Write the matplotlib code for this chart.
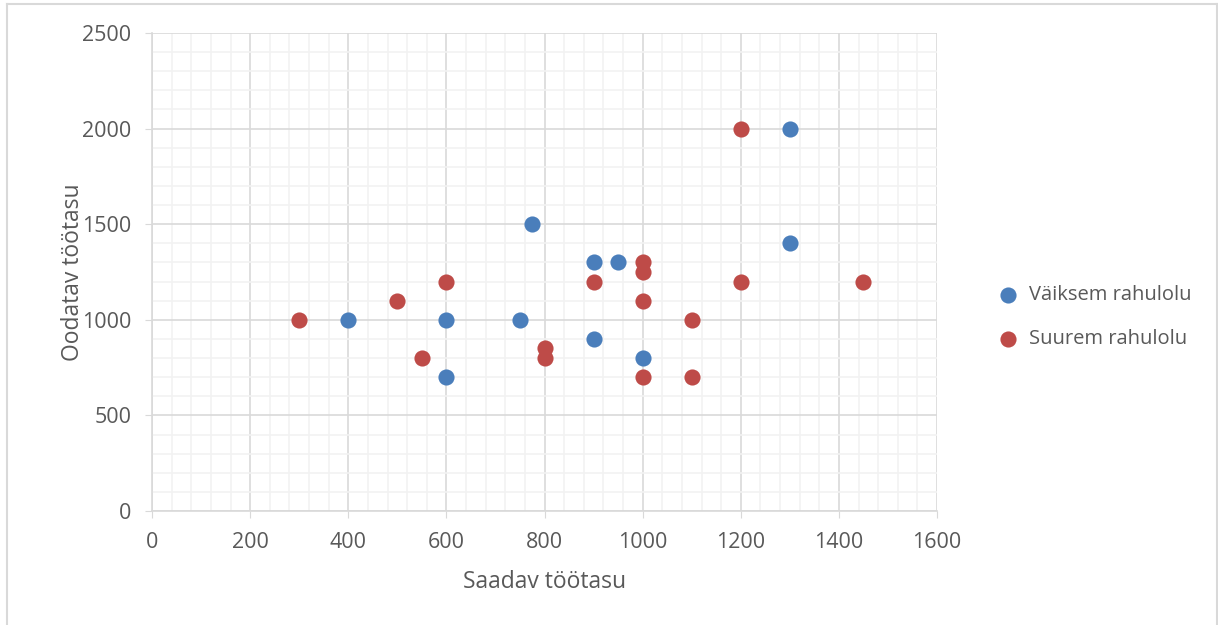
import matplotlib.pyplot as plt
from matplotlib.ticker import MultipleLocator
from matplotlib.lines import Line2D

plt.rcParams['font.family'] = ['Open Sans', 'DejaVu Sans']

vaiksem_x = [400, 600, 600, 750, 775, 900, 950, 900, 1000, 1300, 1300]
vaiksem_y = [1000, 1000, 700, 1000, 1500, 1300, 1300, 900, 800, 2000, 1400]

suurem_x = [300, 500, 550, 600, 800, 800, 900, 1000, 1000, 1000, 1000, 1100, 1100, 1200, 1200, 1450]
suurem_y = [1000, 1100, 800, 1200, 850, 800, 1200, 1300, 1250, 1100, 700, 1000, 700, 2000, 1200, 1200]

text_col = '#595959'
blue = '#4A7EBB'
red = '#BE4B48'

fig = plt.figure(figsize=(12.18, 6.25), dpi=100)
ax = fig.add_axes([0.1248, 0.1824, 0.6445, 0.7648])

ax.scatter(vaiksem_x, vaiksem_y, s=135, color=blue, zorder=3, linewidths=0, label='Väiksem rahulolu')
ax.scatter(suurem_x, suurem_y, s=135, color=red, zorder=3, linewidths=0, label='Suurem rahulolu')

ax.set_xlim(0, 1600)
ax.set_ylim(0, 2500)
ax.xaxis.set_major_locator(MultipleLocator(200))
ax.xaxis.set_minor_locator(MultipleLocator(40))
ax.yaxis.set_major_locator(MultipleLocator(500))
ax.yaxis.set_minor_locator(MultipleLocator(100))
ax.grid(which='major', color='#D9D9D9', lw=1.2, zorder=0)
ax.grid(which='minor', color='#F2F2F2', lw=1.2, zorder=0)
ax.set_axisbelow(True)

for s in ['top', 'right']:
    ax.spines[s].set_visible(False)
for s in ['left', 'bottom']:
    ax.spines[s].set_color('#D9D9D9')
    ax.spines[s].set_linewidth(1.2)

ax.tick_params(which='major', length=5, color='#D9D9D9', labelcolor=text_col, labelsize=15.5)
ax.tick_params(axis='x', pad=10)
ax.tick_params(axis='y', pad=10)
ax.tick_params(which='minor', length=0)

ax.set_xlabel('Saadav töötasu', color=text_col, fontsize=16.5, labelpad=12)
ax.set_ylabel('Oodatav töötasu', color=text_col, fontsize=16.5, labelpad=-2)

ax.legend(loc='center left', bbox_to_anchor=(0.796, 0.493), bbox_transform=fig.transFigure,
          frameon=False, fontsize=14.5, labelcolor=text_col, handletextpad=0.05,
          labelspacing=1.2, markerscale=1.0)

# light frame around the chart
fig.add_artist(Line2D([0.006, 0.006], [0, 0.993], color='#D9D9D9', lw=1.5, transform=fig.transFigure))
fig.add_artist(Line2D([0.006, 0.999], [0.993, 0.993], color='#D9D9D9', lw=1.5, transform=fig.transFigure))
fig.add_artist(Line2D([0.999, 0.999], [0, 0.993], color='#D9D9D9', lw=1.5, transform=fig.transFigure))

fig.savefig('out.png', dpi=100, facecolor='white')
